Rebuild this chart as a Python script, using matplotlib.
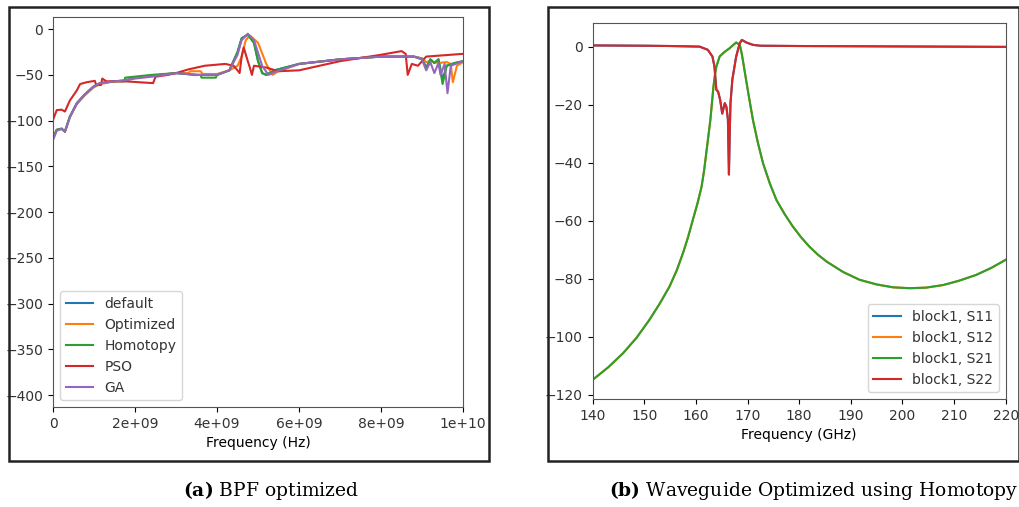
import matplotlib
matplotlib.use("Agg")
import matplotlib.pyplot as plt
from matplotlib.patches import Rectangle

# ---- panel (a): BPF optimized, frequency in units of 1e9 Hz ----
f_def = [0.0, 0.09, 0.21, 0.29, 0.41, 0.58, 0.76, 0.98, 1.15, 1.5, 1.75, 2.0, 2.4, 3.0, 3.5, 4.0,
         4.3, 4.5, 4.6, 4.75, 4.9, 5.0, 5.1, 5.2, 5.4, 6.0, 7.0, 8.0, 8.8, 9.0, 9.1, 9.2, 9.3,
         9.4, 9.5, 9.6, 9.8, 10.0]
db_def = [-120, -110, -109, -112, -96, -81, -72, -63, -59, -57, -56, -53, -51, -48, -50, -50,
          -45, -25, -10, -6, -15, -35, -48, -50, -45, -38, -33, -30, -30, -32, -42, -33, -37,
          -33, -55, -40, -37, -35]

f_opt = [0.0, 0.09, 0.21, 0.29, 0.41, 0.58, 0.76, 0.98, 1.15, 1.5, 1.75, 2.0, 2.4, 3.0, 3.3, 3.35,
         3.6, 3.65, 4.0, 4.3, 4.5, 4.6, 4.7, 4.8, 5.0, 5.2, 5.35, 5.5, 6.0, 7.0, 8.0, 8.8, 9.0,
         9.1, 9.2, 9.4, 9.6, 9.7, 9.75, 9.85, 10.0]
db_opt = [-119, -110, -109, -112, -96, -82, -73, -64, -60, -57, -57, -53, -51, -48, -48, -46,
          -46, -49, -49, -45, -40, -30, -12, -7, -15, -38, -50, -46, -38, -33, -30, -30, -32,
          -36, -35, -37, -36, -38, -58, -40, -36]

f_hom = [0.0, 0.09, 0.21, 0.29, 0.41, 0.58, 0.76, 0.98, 1.15, 1.5, 1.74, 1.76, 2.4, 3.0, 3.5, 3.6,
         3.62, 3.97, 4.0, 4.3, 4.5, 4.6, 4.75, 4.9, 5.0, 5.1, 5.2, 5.4, 6.0, 7.0, 8.0, 8.8, 9.0,
         9.1, 9.2, 9.3, 9.4, 9.5, 9.6, 9.8, 10.0]
db_hom = [-118, -110, -108.5, -112, -95.5, -81, -72, -63, -59, -57, -57, -53, -50, -48, -50, -50,
          -53, -53, -50, -45, -25, -10, -6, -15, -35, -48, -50, -45, -38, -33, -30, -30, -33,
          -43, -33, -37, -33, -60, -40, -37, -35]

f_pso = [0.0, 0.09, 0.21, 0.29, 0.41, 0.58, 0.66, 0.82, 1.02, 1.05, 1.17, 1.2, 1.3, 1.75, 2.44,
         2.5, 2.8, 3.0, 3.3, 3.7, 4.2, 4.4, 4.5, 4.55, 4.6, 4.65, 4.75, 4.8, 4.85, 4.9, 5.2, 5.5,
         6.0, 6.5, 7.0, 8.0, 8.5, 8.6, 8.65, 8.75, 8.9, 9.1, 10.0]
db_pso = [-99, -88.5, -88, -90, -78, -67, -60, -58, -56.5, -61, -61, -54, -57, -57, -59,
          -52, -50, -48, -44, -40, -38, -40, -45, -48, -30, -20, -35, -42, -50, -40, -42, -46,
          -45, -40, -35, -28, -24, -27, -50, -38, -40, -30, -27]

f_ga = [0.0, 0.09, 0.21, 0.29, 0.41, 0.58, 0.76, 0.98, 1.15, 1.5, 1.75, 2.0, 2.4, 3.0, 3.5, 4.0,
        4.3, 4.5, 4.6, 4.75, 4.9, 5.1, 5.25, 5.4, 6.0, 7.0, 8.0, 8.8, 9.0, 9.1, 9.2, 9.3,
        9.4, 9.45, 9.55, 9.62, 9.7, 10.0]
db_ga = [-121, -111, -109, -112, -96, -81, -72, -63, -59, -57, -56, -54, -52, -48, -50, -50,
         -45, -28, -12, -5, -12, -40, -50, -47, -38, -33, -30, -30, -33, -45, -36, -48, -37,
         -50, -38, -70, -40, -35]

series_a = ["default", "Optimized", "Homotopy", "PSO", "GA"]

# ---- panel (b): waveguide, frequency in GHz ----
f_s21 = [140, 143, 145.9, 148.5, 151.0, 153, 154.9, 156.3, 157.5, 158.5, 159.4, 160.3, 161.1,
         161.6, 162.0, 162.4, 162.8, 163.1, 163.4, 163.7, 163.96, 164.6, 165.5, 166.5, 167.2,
         167.8, 168.5, 168.9, 169.4, 170.2, 171.05, 172, 173.0, 174.3, 175.6, 177.2, 178.8,
         180.4, 182.0, 183.6, 185.3, 188.5, 191.7, 195, 198.2, 201.4, 204.6, 207.9, 211,
         214.3, 217.2, 220]
db_s21 = [-114.8, -110.5, -105.6, -100.3, -94.1, -88.5, -82.6, -77, -71.1, -65.5, -59.7, -54,
          -48.2, -42.5, -36.7, -31, -25.2, -19.5, -13.7, -9.5, -6.8, -3.3, -1.8, -0.5, 0.6,
          1.5, 0.7, -2.5, -7.9, -16.5, -25.2, -33, -40.1, -47, -52.8, -57.7, -62, -65.7,
          -68.9, -71.6, -74, -77.6, -80.3, -81.9, -82.9, -83.2, -83, -82.1, -80.6, -78.6,
          -76.2, -73.4]

f_s22 = [140, 150, 155, 160.7, 162.3, 163.2, 163.6, 163.96, 164.3, 164.7, 165.1, 165.6, 165.9,
         166.2, 166.4, 166.55, 166.7, 167.05, 167.8, 168.5, 168.9, 169.8, 171.05, 172.5, 180,
         200, 220]
db_s22 = [0.5, 0.4, 0.3, 0.1, -1, -3.3, -6.8, -14.8, -15.4, -18.3, -23, -19.4, -20.6,
          -25, -44, -30, -19.4, -11.4, -3.3, 1.3, 2.4, 1.5, 0.7, 0.4, 0.3, 0.15, 0.0]

series_b = ["block1, S11", "block1, S12", "block1, S21", "block1, S22"]

plt.rcParams["font.size"] = 10
plt.rcParams["text.color"] = "#333333"
plt.rcParams["xtick.labelcolor"] = "#333333"
plt.rcParams["ytick.labelcolor"] = "#333333"
plt.rcParams["mathtext.fontset"] = "dejavuserif"

fig = plt.figure(figsize=(10.2, 5.07), dpi=100)

# framed sub-figure borders
for x0, x1 in [(9, 489), (548, 1019)]:
    fig.patches.append(Rectangle((x0 / 1020, 46 / 507), (x1 - x0) / 1020, 454 / 507,
                                 transform=fig.transFigure, fill=False,
                                 edgecolor="#222222", linewidth=1.8))

ax1 = fig.add_axes([0.052, 0.197, 0.402, 0.769])
data_a = [(f_def, db_def), (f_opt, db_opt), (f_hom, db_hom), (f_pso, db_pso), (f_ga, db_ga)]
for name, (f, db) in zip(series_a, data_a):
    ax1.plot([v * 1e9 for v in f], db, label=name, linewidth=1.5)
ax1.set_xlim(0, 1e10)
ax1.set_ylim(-413, 13)
ax1.set_xticks([0, 2e9, 4e9, 6e9, 8e9, 1e10])
ax1.set_xticklabels(["0", "2e+09", "4e+09", "6e+09", "8e+09", "1e+10"])
ax1.set_yticks([0, -50, -100, -150, -200, -250, -300, -350, -400])
ax1.set_xlabel("Frequency (Hz)")
ax1.legend(loc="lower left")

ax2 = fig.add_axes([0.581, 0.213, 0.405, 0.742])
data_b = [(f_s22, db_s22), (f_s21, db_s21), (f_s21, db_s21), (f_s22, db_s22)]
for name, (f, db) in zip(series_b, data_b):
    ax2.plot(f, db, label=name, linewidth=1.5)
ax2.set_xlim(140, 220)
ax2.set_ylim(-121.4, 8.3)
ax2.set_xticks(range(140, 221, 10))
ax2.set_yticks([0, -20, -40, -60, -80, -100, -120])
ax2.set_xlabel("Frequency (GHz)")
ax2.legend(loc="lower right")

for ax in (ax1, ax2):
    for sp in ax.spines.values():
        sp.set_color("#555555")

# captions
fig.text(271 / 1020, 17 / 507, r"$\bf{(a)}$ BPF optimized", ha="center", va="center",
         family="DejaVu Serif", fontsize=13.5, color="black")
fig.text(814 / 1020, 17 / 507, r"$\bf{(b)}$ Waveguide Optimized using Homotopy", ha="center",
         va="center", family="DejaVu Serif", fontsize=13.5, color="black")

fig.savefig("out.png", dpi=100)
